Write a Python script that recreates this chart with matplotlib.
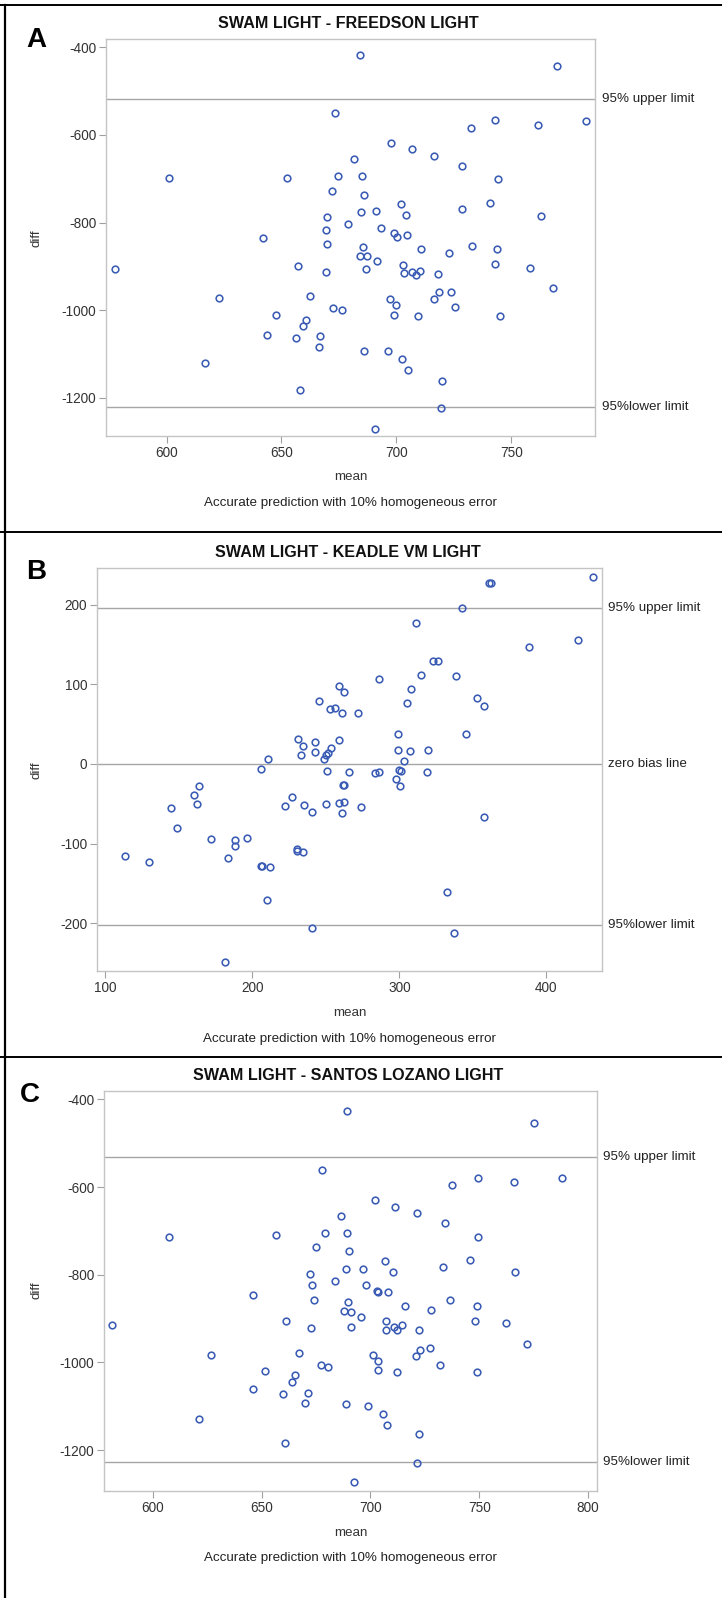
import matplotlib
matplotlib.use("Agg")
import matplotlib.pyplot as plt
from matplotlib.lines import Line2D
import matplotlib.transforms as mtransforms
import numpy as np

plt.rcParams['font.family'] = ['Liberation Sans', 'DejaVu Sans']
plt.rcParams['axes.unicode_minus'] = False

# ---- panel A: SWAM LIGHT - FREEDSON LIGHT ----
a_mean = [684.2, 769.8, 673.4, 743.0, 761.8, 782.4, 732.6, 697.8, 706.8, 716.6,
          681.6, 728.8, 601.0, 652.2, 674.8, 685.0, 744.4, 671.8, 686.0, 702.0,
          741.0, 684.8, 691.2, 704.4, 728.8, 762.8, 669.8, 679.0, 669.6, 693.2,
          699.0, 700.2, 704.8, 641.8, 670.0, 685.6, 710.6, 733.0, 744.0, 684.2,
          687.4, 691.6, 722.8, 577.4, 657.4, 669.6, 687.0, 703.0, 703.2, 706.8,
          708.6, 710.4, 718.2, 743.0, 758.0, 768.0, 622.6, 662.6, 672.4, 676.2,
          697.4, 699.8, 716.6, 718.6, 723.8, 725.6, 647.4, 660.6, 659.2, 699.2,
          709.6, 745.0, 643.6, 656.4, 666.8, 666.4, 686.0, 696.4, 702.6, 705.2,
          616.6, 658.2, 720.0, 719.4, 690.8]
a_diff = [-418, -443, -550, -565, -578, -567, -585, -619, -631, -647,
          -654, -671, -698, -698, -694, -694, -701, -728, -736, -758,
          -756, -775, -773, -783, -770, -786, -788, -803, -816, -813,
          -824, -834, -828, -836, -848, -855, -860, -853, -860, -876,
          -877, -888, -870, -907, -898, -913, -907, -897, -916, -912,
          -920, -910, -918, -895, -903, -950, -972, -967, -994, -1000,
          -974, -987, -974, -959, -959, -992, -1012, -1023, -1037, -1010,
          -1014, -1014, -1056, -1063, -1059, -1084, -1092, -1094, -1112, -1136,
          -1121, -1181, -1161, -1223, -1270]
a_lines = [-519, -1220.5]
a_line_labels = ["95% upper limit", "95%lower limit"]

# ---- panel B: SWAM LIGHT - KEADLE VM LIGHT ----
b_mean = [431.6, 360.9, 362.1, 342.4, 311.1, 421.2, 388.1, 323.0, 326.1, 314.9,
          338.7, 286.4, 258.9, 262.3, 308.0, 353.0, 357.4, 245.1, 305.2, 253.0,
          256.1, 260.8, 272.0, 299.2, 345.5, 231.1, 258.9, 242.9, 234.2, 253.6,
          299.2, 307.0, 319.8, 242.3, 251.7, 233.3, 250.1, 248.9, 210.7, 303.3,
          206.0, 251.1, 265.5, 283.6, 286.4, 299.5, 301.4, 318.6, 297.4, 300.5,
          261.7, 262.3, 163.8, 160.7, 162.2, 227.3, 222.0, 235.4, 249.8, 258.9,
          262.3, 273.9, 240.8, 261.1, 145.0, 357.4, 148.8, 171.9, 188.5, 188.2,
          196.7, 230.4, 230.7, 234.8, 113.4, 183.8, 130.0, 205.7, 206.3, 211.7,
          210.1, 332.4, 240.8, 337.4, 181.6]
b_diff = [234.8, 227.6, 227.6, 195.8, 176.6, 155.8, 146.5, 129.5, 129.5, 111.7,
          110.4, 106.2, 98.1, 90.9, 93.8, 83.2, 73.0, 78.6, 76.9, 68.8,
          70.5, 64.5, 63.7, 37.4, 37.4, 31.8, 30.1, 27.6, 22.5, 19.5,
          17.4, 16.1, 17.4, 14.9, 13.6, 11.0, 10.6, 6.4, 6.8, 4.2,
          -5.9, -8.5, -10.2, -11.5, -10.2, -7.2, -8.5, -10.2, -18.7, -27.6,
          -26.8, -26.8, -27.6, -39.1, -50.5, -41.6, -53.1, -51.8, -50.5, -49.3,
          -47.6, -54.4, -59.9, -61.1, -55.6, -67.1, -80.7, -94.3, -95.1, -103.6,
          -93.0, -106.6, -109.6, -110.0, -115.5, -117.6, -123.6, -127.8, -127.8, -129.1,
          -170.7, -160.9, -205.5, -211.9, -249.3]
b_lines = [195.8, 0, -202.5]
b_line_labels = ["95% upper limit", "zero bias line", "95%lower limit"]

# ---- panel C: SWAM LIGHT - SANTOS LOZANO LIGHT ----
c_mean = [689.2, 775.4, 677.8, 749.6, 766.1, 787.9, 737.3, 702.3, 711.2, 721.6,
          686.7, 734.3, 607.6, 656.6, 679.2, 689.2, 749.6, 675.2, 690.3, 706.8,
          745.8, 688.8, 696.8, 710.4, 733.3, 766.5, 672.2, 683.7, 673.1, 697.9,
          703.2, 703.6, 708.3, 646.2, 674.2, 689.8, 715.9, 736.4, 748.9, 687.7,
          691.3, 695.8, 728.0, 581.4, 661.2, 672.9, 691.3, 707.0, 707.4, 711.0,
          712.1, 714.4, 722.2, 747.9, 762.5, 772.0, 626.5, 667.2, 677.3, 680.7,
          701.3, 703.4, 720.8, 722.9, 727.3, 731.8, 651.5, 665.3, 663.8, 703.4,
          712.3, 748.9, 646.0, 659.7, 671.2, 670.1, 688.8, 698.7, 705.7, 707.8,
          621.0, 660.6, 722.2, 721.6, 692.6]
c_diff = [-426, -453.7, -560, -580, -587.8, -580, -594.9, -629.6, -644.6, -659.6,
          -666.7, -682.5, -714, -709.3, -704.6, -704.6, -714, -736.1, -746.4, -769.3,
          -766.9, -786.6, -786.6, -793.7, -781.9, -793.7, -798.4, -813.4, -823.7, -823.7,
          -837.1, -838.7, -838.7, -845.8, -858.4, -863.1, -871, -858.4, -871, -883.6,
          -886, -896.3, -881.3, -915.2, -905.7, -920.7, -918.4, -905.7, -926.2, -919.9,
          -926.2, -915.2, -925.5, -905.7, -910.5, -957.8, -983.1, -977.5, -1005.2, -1009.9,
          -983.1, -995.7, -985.4, -970.4, -968, -1005.2, -1020.2, -1029.6, -1044.6, -1017,
          -1022.5, -1022.5, -1059.6, -1072.2, -1069.1, -1091.9, -1094.3, -1099.8, -1116.4, -1141.7,
          -1129, -1183.5, -1163.8, -1228.4, -1272.6]
c_lines = [-531.8, -1226]
c_line_labels = ["95% upper limit", "95%lower limit"]

W, H = 722, 1598
fig = plt.figure(figsize=(W / 100, H / 100), dpi=100)

def px(x, y):
    return x / W, 1 - y / H

def panel(box, x, y, lines, labels, xlim, ylim, xticks, yticks,
          title, letter, letter_pos, title_y, diff_pos, mean_y, cap_y, lab_x):
    l, t, r, b = box
    ax = fig.add_axes([l / W, 1 - b / H, (r - l) / W, (b - t) / H])
    ax.plot(x, y, 'o', mfc='none', mec='#3a5cb4', ms=4.8, mew=1.15, zorder=3)
    for v, lab in zip(lines, labels):
        ax.axhline(v, color='#a6a6a6', lw=1.0, zorder=2)
        tr = mtransforms.blended_transform_factory(fig.transFigure, ax.transData)
        ax.text(lab_x / W, v, lab, transform=tr, va='center', ha='left',
                fontsize=9.6, color='#222222', clip_on=False)
    ax.set_xlim(*xlim)
    ax.set_ylim(*ylim)
    ax.set_xticks(xticks)
    ax.set_yticks(yticks)
    for s in ax.spines.values():
        s.set_color('#c4c4c4')
        s.set_linewidth(1.0)
    ax.tick_params(direction='out', length=5, width=0.8, color='#a0a0a0',
                   labelsize=9.8, labelcolor='#333333', pad=2)
    cx = (l + r) / 2
    fig.text(*px(cx - 2, title_y), title, ha='center', va='center',
             fontsize=11.6, fontweight='bold', color='#111111')
    fig.text(*px(*letter_pos), letter, ha='left', va='center',
             fontsize=20, fontweight='bold', color='black')
    fig.text(*px(*diff_pos), 'diff', rotation=90, ha='center', va='center',
             fontsize=9.6, color='#333333')
    fig.text(*px(cx, mean_y), 'mean', ha='center', va='center',
             fontsize=9.6, color='#333333')
    fig.text(*px(cx, cap_y), 'Accurate prediction with 10% homogeneous error',
             ha='center', va='center', fontsize=9.6, color='#222222')
    return ax

panel((106, 39, 595, 436), a_mean, a_diff, a_lines, a_line_labels,
      (573.6, 786.5), (-1287, -381), [600, 650, 700, 750],
      [-400, -600, -800, -1000, -1200],
      'SWAM LIGHT - FREEDSON LIGHT', 'A', (26, 40), 23, (37, 238), 477, 503, 602)

panel((97, 568, 602, 971), b_mean, b_diff, b_lines, b_line_labels,
      (94.4, 437.8), (-260, 246), [100, 200, 300, 400],
      [200, 100, 0, -100, -200],
      'SWAM LIGHT - KEADLE VM LIGHT', 'B', (26, 572), 553, (36, 770), 1013, 1039, 608)

panel((104, 1091, 597, 1491), c_mean, c_diff, c_lines, c_line_labels,
      (577.5, 804.2), (-1293, -381), [600, 650, 700, 750, 800],
      [-400, -600, -800, -1000, -1200],
      'SWAM LIGHT - SANTOS LOZANO LIGHT', 'C', (20, 1095), 1075, (37, 1290), 1533, 1558, 603)

# table borders round the three panels
for yb in [5, 532, 1057]:
    fig.add_artist(Line2D([0, 1], [1 - yb / H] * 2, transform=fig.transFigure,
                          color='black', lw=1.4))
fig.add_artist(Line2D([5 / W] * 2, [0, 1 - 5 / H], transform=fig.transFigure,
                      color='black', lw=1.6))

fig.savefig('out.png', dpi=100)
